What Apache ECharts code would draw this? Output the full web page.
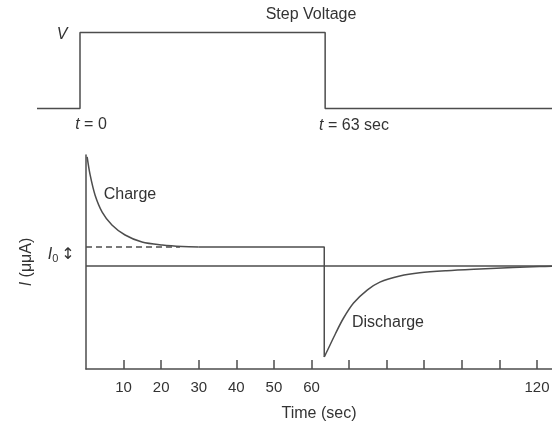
<!DOCTYPE html>
<html>
<head>
<meta charset="utf-8">
<script src="https://cdn.jsdelivr.net/npm/echarts@6/dist/echarts.min.js"></script>
<style>
html,body{margin:0;padding:0;background:#fff;}
#c{width:552px;height:424px;}
</style>
</head>
<body>
<div id="c"></div>
<script>
// Step voltage (top panel)
const voltT = [-11.05, 0, 0, 63, 63, 121.3];
const voltV = [0, 0, 1, 1, 0, 0];

// Current (bottom panel), I0 = 1 unit
const chargeT = [0.3, 1.1, 2.4, 4.3, 6.9, 10.4, 14.9, 20.3, 25.6, 30];
const chargeI = [5.74, 4.79, 3.74, 2.84, 2.16, 1.63, 1.26, 1.1, 1.02, 1.0];
const plateauT = [30, 63.4, 63.4];
const plateauI = [1.0, 1.0, -4.79];
const dischargeT = [63.4, 64.3, 66.4, 68.5, 71.2, 74.9, 78.2, 83.5, 88.8, 96, 104.8, 113.6, 120.7, 124];
const dischargeI = [-4.79, -4.42, -3.55, -2.75, -1.95, -1.26, -0.85, -0.53, -0.36, -0.25, -0.16, -0.08, -0.03, -0.01];
const baselineT = [0, 124];
const baselineI = [0, 0];
const i0LineT = [0, 25];
const i0LineI = [1, 1];

const tickValues = [10, 20, 30, 40, 50, 60, 70, 80, 90, 100, 110, 120];
const tickLabels = [10, 20, 30, 40, 50, 60, 120];

const pair = (xs, ys) => xs.map((x, i) => [x, ys[i]]);
const ink = '#4d4d4d';
const txt = '#333';
const font = 'Liberation Sans, Arial, sans-serif';

const chart = echarts.init(document.getElementById('c'));
chart.setOption({
  backgroundColor: '#fff',
  animation: false,
  grid: [
    {left: 37, right: 0, top: 32.5, height: 76, containLabel: false, outerBoundsMode: 'none'},
    {left: 86, right: 0, top: 155, bottom: 55, containLabel: false, outerBoundsMode: 'none'}
  ],
  xAxis: [
    {gridIndex: 0, type: 'value', min: -11.05, max: 121.3, show: false},
    {gridIndex: 1, type: 'value', min: 0, max: 124,
     splitLine: {show: false},
     axisLine: {show: true, onZero: false, lineStyle: {color: ink, width: 1.5}},
     axisTick: {show: true, inside: true, length: 9, customValues: tickValues, lineStyle: {color: ink, width: 1.5}},
     axisLabel: {show: true, customValues: tickLabels, color: txt, fontSize: 15, fontFamily: font, margin: 11},
     name: 'Time (sec)', nameLocation: 'middle', nameGap: 37,
     nameTextStyle: {color: txt, fontSize: 16, fontFamily: font}
    }
  ],
  yAxis: [
    {gridIndex: 0, type: 'value', min: 0, max: 1, show: false},
    {gridIndex: 1, type: 'value', min: -5.42, max: 5.84,
     splitLine: {show: false},
     axisLine: {show: true, onZero: false, lineStyle: {color: ink, width: 1.5}},
     axisTick: {show: false},
     axisLabel: {show: false},
     name: '{i|I} (μμA)', nameLocation: 'middle', nameGap: 51, nameRotate: 90,
     nameTextStyle: {color: txt, fontSize: 16, fontFamily: font,
       rich: {i: {fontStyle: 'italic', fontSize: 16, fontFamily: font, color: txt}}}
    }
  ],
  series: [
    {type: 'line', xAxisIndex: 0, yAxisIndex: 0, data: pair(voltT, voltV), showSymbol: false, clip: false,
     lineStyle: {color: ink, width: 1.5}},
    {type: 'line', xAxisIndex: 1, yAxisIndex: 1, data: pair(baselineT, baselineI), showSymbol: false, clip: false,
     lineStyle: {color: ink, width: 1.3}},
    {type: 'line', xAxisIndex: 1, yAxisIndex: 1, data: pair(i0LineT, i0LineI), showSymbol: false,
     lineStyle: {color: ink, width: 1.3, type: [6, 4]}},
    {type: 'line', xAxisIndex: 1, yAxisIndex: 1, data: pair(chargeT, chargeI), showSymbol: false,
     smooth: 0.3, clip: false, lineStyle: {color: ink, width: 1.5}},
    {type: 'line', xAxisIndex: 1, yAxisIndex: 1, data: pair(plateauT, plateauI), showSymbol: false,
     lineStyle: {color: ink, width: 1.5}},
    {type: 'line', xAxisIndex: 1, yAxisIndex: 1, data: pair(dischargeT, dischargeI), showSymbol: false,
     smooth: 0.3, clip: false, lineStyle: {color: ink, width: 1.5}}
  ],
  graphic: [
    {type: 'text', style: {text: 'Step Voltage', x: 311, y: 15, align: 'center', verticalAlign: 'middle', fontSize: 16, fontFamily: font, fill: txt}},
    {type: 'text', style: {text: 'V', x: 62, y: 35, align: 'center', verticalAlign: 'middle', fontSize: 16, fontStyle: 'italic', fontFamily: font, fill: txt}},
    {type: 'text', style: {text: '{i|t} = 0', x: 91, y: 125, align: 'center', verticalAlign: 'middle', fontSize: 16, fontFamily: font, fill: txt,
      rich: {i: {fontStyle: 'italic', fontSize: 16, fontFamily: font, fill: txt}}}},
    {type: 'text', style: {text: '{i|t} = 63 sec', x: 354, y: 126, align: 'center', verticalAlign: 'middle', fontSize: 16, fontFamily: font, fill: txt,
      rich: {i: {fontStyle: 'italic', fontSize: 16, fontFamily: font, fill: txt}}}},
    {type: 'text', style: {text: 'Charge', x: 130, y: 195, align: 'center', verticalAlign: 'middle', fontSize: 16, fontFamily: font, fill: txt}},
    {type: 'text', style: {text: 'Discharge', x: 388, y: 323, align: 'center', verticalAlign: 'middle', fontSize: 16, fontFamily: font, fill: txt}},
    {type: 'text', style: {text: '{i|I}{s|0}', x: 53, y: 255, align: 'center', verticalAlign: 'middle', fontSize: 16, fontFamily: font, fill: txt,
      rich: {i: {fontStyle: 'italic', fontSize: 16, fontFamily: font, fill: txt}, s: {fontSize: 11, fontFamily: font, fill: txt, padding: [7, 0, 0, 0]}}}},
    {type: 'text', style: {text: '↕', x: 68, y: 255, align: 'center', verticalAlign: 'middle', fontSize: 16, fontFamily: 'DejaVu Sans', fill: txt}}
  ]
});
</script>
</body>
</html>
